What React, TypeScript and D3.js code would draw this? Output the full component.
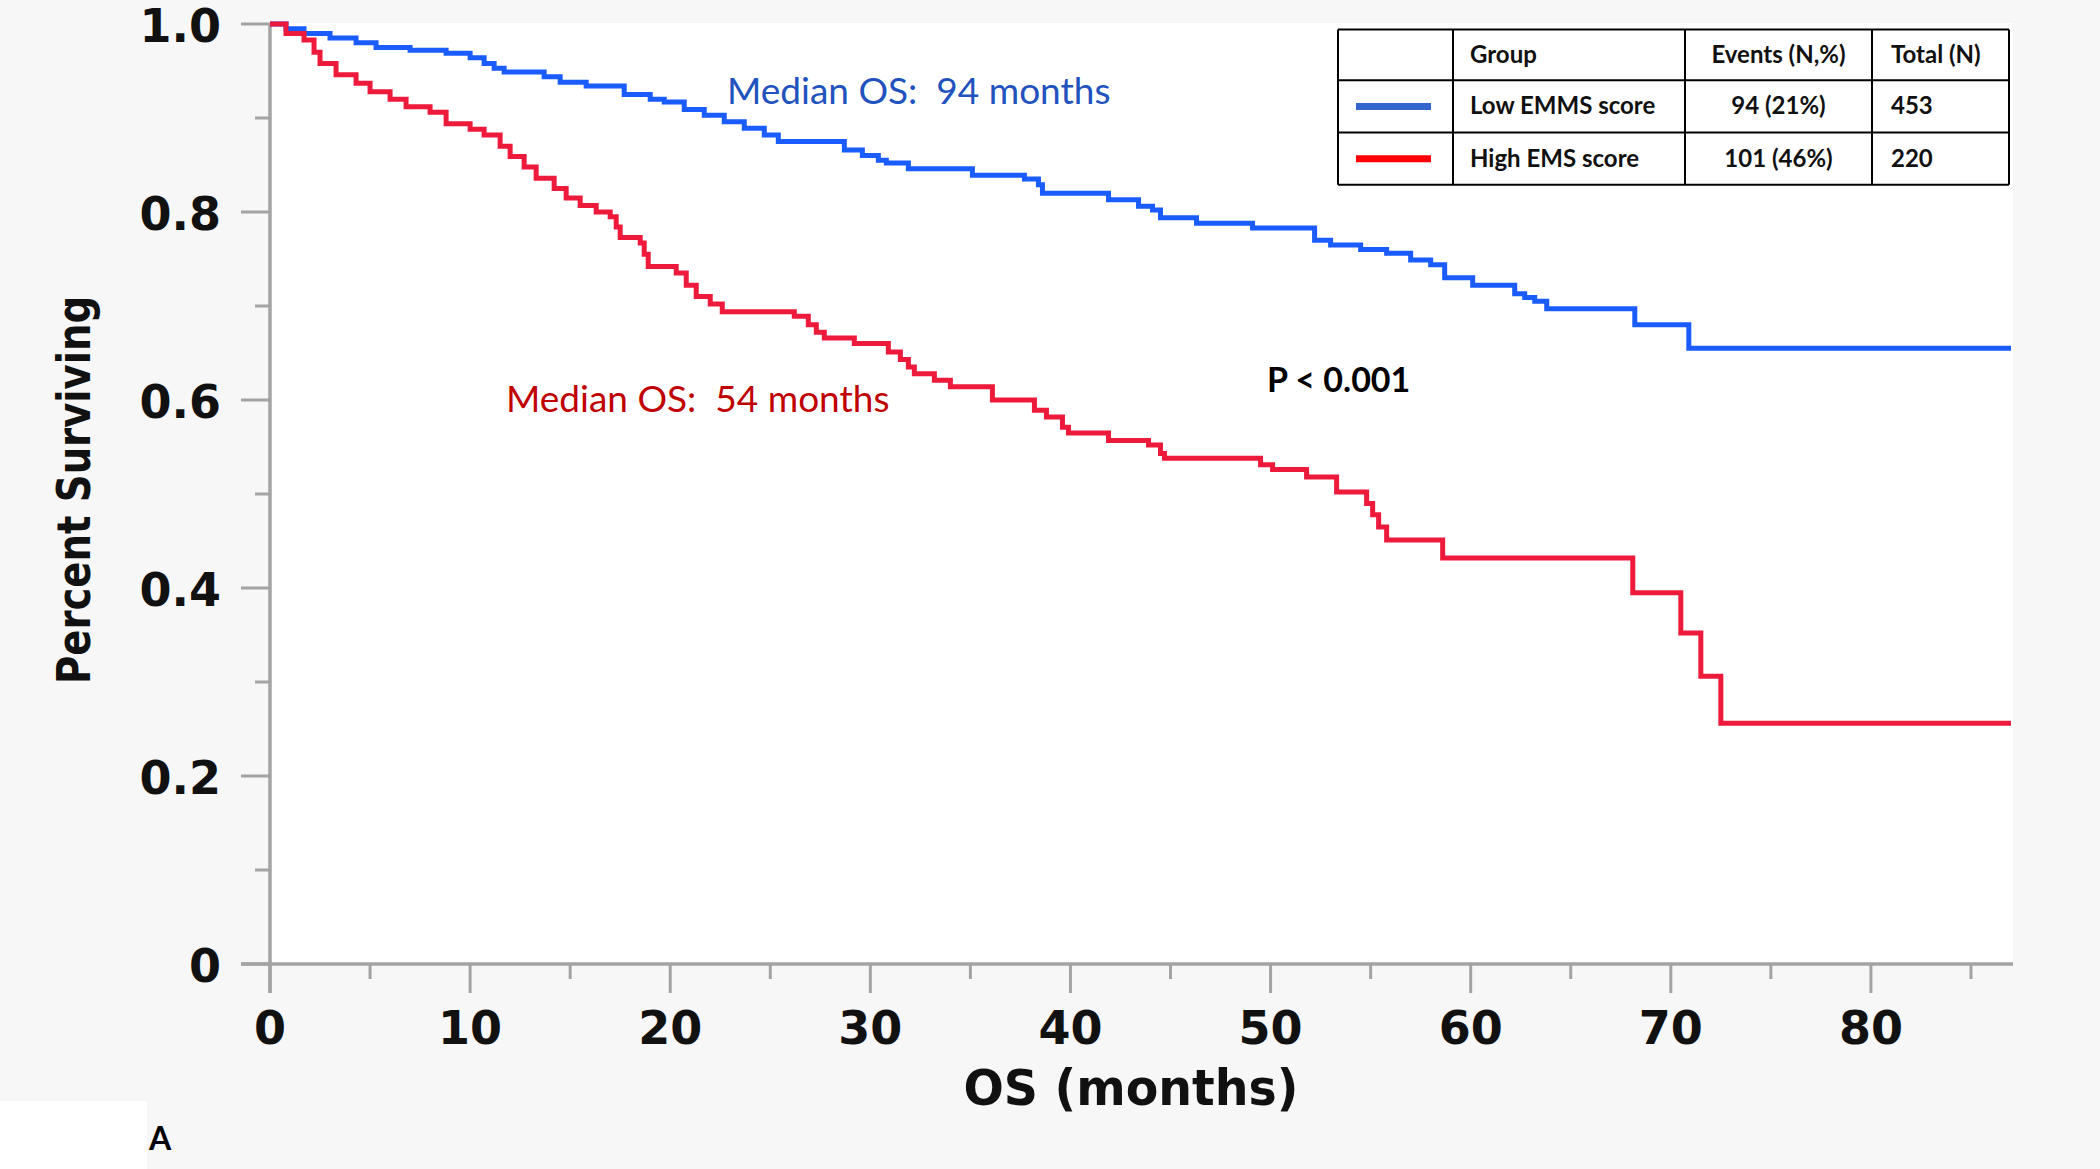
import React from "react";
import * as d3 from "d3";

// ---------- data ----------
const lowTimes = [0, 0.8, 1.7, 3.0, 4.3, 5.3, 7.0, 8.8, 10.0, 10.7, 11.2, 11.7, 13.7, 14.5, 15.8, 17.7, 19.0, 19.7, 20.7, 21.7, 22.7, 23.7, 24.7, 25.4, 28.7, 29.6, 30.4, 30.8, 31.9, 35.1, 37.7, 38.4, 38.6, 41.9, 43.4, 44.1, 44.5, 46.3, 49.1, 52.2, 53.0, 54.5, 55.8, 57.0, 58.0, 58.7, 60.1, 62.2, 62.7, 63.2, 63.8, 68.2, 70.9];
const lowSurv = [1.0, 0.995, 0.99, 0.985, 0.98, 0.975, 0.972, 0.969, 0.964, 0.958, 0.953, 0.949, 0.944, 0.938, 0.934, 0.925, 0.92, 0.917, 0.909, 0.903, 0.896, 0.889, 0.882, 0.875, 0.866, 0.86, 0.855, 0.852, 0.846, 0.839, 0.835, 0.829, 0.82, 0.813, 0.806, 0.802, 0.794, 0.788, 0.783, 0.77, 0.765, 0.76, 0.756, 0.749, 0.744, 0.73, 0.722, 0.713, 0.709, 0.705, 0.697, 0.68, 0.655];

const highTimes = [0, 0.8, 1.7, 2.2, 2.5, 3.3, 4.3, 5.0, 6.0, 6.8, 8.0, 8.8, 10.0, 10.7, 11.5, 12.0, 12.7, 13.3, 14.2, 14.8, 15.5, 16.3, 17.0, 17.3, 17.5, 18.5, 18.7, 18.9, 20.3, 20.8, 21.3, 22.0, 22.6, 26.2, 26.9, 27.3, 27.7, 29.2, 30.9, 31.5, 31.9, 32.2, 33.2, 34.0, 36.1, 38.2, 38.8, 39.6, 39.9, 41.9, 43.9, 44.5, 44.7, 49.5, 50.1, 51.8, 53.3, 54.8, 55.1, 55.4, 55.8, 58.6, 68.1, 70.5, 71.5, 72.5];
const highSurv = [1.0, 0.99, 0.983, 0.97, 0.958, 0.946, 0.937, 0.928, 0.92, 0.912, 0.906, 0.894, 0.888, 0.882, 0.87, 0.859, 0.848, 0.836, 0.825, 0.815, 0.807, 0.8, 0.795, 0.784, 0.773, 0.767, 0.755, 0.742, 0.735, 0.722, 0.71, 0.702, 0.694, 0.689, 0.68, 0.672, 0.666, 0.66, 0.651, 0.643, 0.635, 0.628, 0.621, 0.614, 0.6, 0.589, 0.582, 0.571, 0.565, 0.557, 0.552, 0.543, 0.538, 0.531, 0.526, 0.518, 0.502, 0.49, 0.478, 0.465, 0.451, 0.432, 0.395, 0.352, 0.306, 0.256];

const followUpEnd = 87;
const xMax = 87.1;

const xMajorTicks = [0, 10, 20, 30, 40, 50, 60, 70, 80];
const xMinorTicks = [5, 15, 25, 35, 45, 55, 65, 75, 85];
const yMajorTicks = [0, 0.2, 0.4, 0.6, 0.8, 1.0];
const yTickLabels = ["0", "0.2", "0.4", "0.6", "0.8", "1.0"];
const yMinorTicks = [0.1, 0.3, 0.5, 0.7, 0.9];

const tableHeaders = ["Group", "Events (N,%)", "Total (N)"];
const groupNames = ["Low EMMS score", "High EMS score"];
const groupEvents = ["94 (21%)", "101 (46%)"];
const groupTotals = ["453", "220"];

const xTitle = "OS (months)";
const yTitle = "Percent Surviving";
const lowMedianText = "Median OS:  94 months";
const highMedianText = "Median OS:  54 months";
const pText = "P < 0.001";
const panelLabel = "A";

// ---------- styling ----------
const W = 2100;
const H = 1169;
const BG = "#f7f7f7";
const AXIS = "#a3a3a3";
const BLUE_LINE = "#1a5cff";
const RED_LINE = "#ee1a3c";
const BLUE_TEXT = "#2152bd";
const RED_TEXT = "#c00000";
const TICK_FONT = "'DejaVu Sans', Verdana, sans-serif";
const TEXT_FONT = "Lato, 'Open Sans', sans-serif";

export default function App() {
  const x = d3.scaleLinear().domain([0, xMax]).range([270, 2013]);
  const y = d3.scaleLinear().domain([0, 1]).range([964, 24]);

  const line = d3
    .line<[number, number]>()
    .x((d) => x(d[0]))
    .y((d) => y(d[1]))
    .curve(d3.curveStepAfter);

  const toPts = (t: number[], s: number[]): [number, number][] => {
    const p: [number, number][] = t.map((tt, i) => [tt, s[i]]);
    p.push([followUpEnd, s[s.length - 1]]);
    return p;
  };

  const lowPath = line(toPts(lowTimes, lowSurv)) || "";
  const highPath = line(toPts(highTimes, highSurv)) || "";

  const x0 = x(0);
  const y0 = y(0);
  const majorLen = 29;
  const minorLen = 15;

  // table geometry
  const colX = [1338, 1453, 1685, 1872, 2009];
  const rowY = [29.5, 80.3, 132.6, 184.8];

  return (
    <svg
      width={W}
      height={H}
      viewBox={`0 0 ${W} ${H}`}
      style={{ position: "absolute", left: 0, top: 0, display: "block" }}
    >
      <rect x={0} y={0} width={W} height={H} fill={BG} />
      {/* plot area */}
      <rect x={x0} y={23} width={x(xMax) - x0} height={y0 - 23} fill="#ffffff" />
      {/* panel label box */}
      <rect x={0} y={1101} width={147} height={H - 1101} fill="#ffffff" />
      <text x={149} y={1150} fontFamily={TEXT_FONT} fontWeight={700} fontSize={32} fill="#000">
        {panelLabel}
      </text>

      {/* axes */}
      <line x1={x0} y1={y(1)} x2={x0} y2={y0 + majorLen} stroke={AXIS} strokeWidth={3.5} />
      <line x1={x0 - majorLen} y1={y0} x2={x(xMax)} y2={y0} stroke={AXIS} strokeWidth={3.5} />
      {yMajorTicks.map((v) => (
        <line key={"ym" + v} x1={x0 - majorLen} x2={x0} y1={y(v)} y2={y(v)} stroke={AXIS} strokeWidth={3} />
      ))}
      {yMinorTicks.map((v) => (
        <line key={"yn" + v} x1={x0 - minorLen} x2={x0} y1={y(v)} y2={y(v)} stroke={AXIS} strokeWidth={3} />
      ))}
      {xMajorTicks.map((v) => (
        <line key={"xm" + v} x1={x(v)} x2={x(v)} y1={y0} y2={y0 + majorLen} stroke={AXIS} strokeWidth={3} />
      ))}
      {xMinorTicks.map((v) => (
        <line key={"xn" + v} x1={x(v)} x2={x(v)} y1={y0} y2={y0 + minorLen} stroke={AXIS} strokeWidth={3} />
      ))}

      {/* tick labels */}
      {yMajorTicks.map((v, i) => (
        <text
          key={"yl" + v}
          x={221}
          y={y(v) + 18}
          textAnchor="end"
          fontFamily={TICK_FONT}
          fontWeight={700}
          fontSize={46}
          fill="#111"
        >
          {yTickLabels[i]}
        </text>
      ))}
      {xMajorTicks.map((v) => (
        <text
          key={"xl" + v}
          x={x(v)}
          y={1044}
          textAnchor="middle"
          fontFamily={TICK_FONT}
          fontWeight={700}
          fontSize={46}
          fill="#111"
        >
          {String(v)}
        </text>
      ))}

      {/* axis titles */}
      <text
        x={1131}
        y={1105}
        textAnchor="middle"
        fontFamily={TICK_FONT}
        fontWeight={700}
        fontSize={50}
        textLength={335}
        lengthAdjust="spacingAndGlyphs"
        fill="#111"
      >
        {xTitle}
      </text>
      <text
        transform={`translate(90, 490) rotate(-90)`}
        textAnchor="middle"
        fontFamily={TICK_FONT}
        fontWeight={700}
        fontSize={46}
        textLength={388}
        lengthAdjust="spacingAndGlyphs"
        fill="#111"
      >
        {yTitle}
      </text>

      {/* curves */}
      <path d={lowPath} fill="none" stroke={BLUE_LINE} strokeWidth={5} strokeLinejoin="miter" />
      <path d={highPath} fill="none" stroke={RED_LINE} strokeWidth={5} strokeLinejoin="miter" />

      {/* annotations */}
      <text x={727} y={104} fontFamily={TEXT_FONT} fontSize={37} fill={BLUE_TEXT} style={{ whiteSpace: "pre" }}>
        {lowMedianText}
      </text>
      <text x={506} y={412} fontFamily={TEXT_FONT} fontSize={37} fill={RED_TEXT} style={{ whiteSpace: "pre" }}>
        {highMedianText}
      </text>
      <text x={1267} y={392} fontFamily={TEXT_FONT} fontWeight={700} fontSize={34} fill="#000">
        {pText}
      </text>

      {/* legend table */}
      <rect x={colX[0]} y={rowY[0]} width={colX[4] - colX[0]} height={rowY[3] - rowY[0]} fill="#fff" />
      {rowY.map((ry, i) => (
        <line key={"tr" + i} x1={colX[0]} x2={colX[4]} y1={ry} y2={ry} stroke="#000" strokeWidth={2} />
      ))}
      {colX.map((cx, i) => (
        <line key={"tc" + i} x1={cx} x2={cx} y1={rowY[0]} y2={rowY[3]} stroke="#000" strokeWidth={2} />
      ))}
      <text x={1470} y={63} fontFamily={TEXT_FONT} fontWeight={700} fontSize={24} fill="#111">
        {tableHeaders[0]}
      </text>
      <text x={(colX[2] + colX[3]) / 2} y={63} textAnchor="middle" fontFamily={TEXT_FONT} fontWeight={700} fontSize={24} fill="#111">
        {tableHeaders[1]}
      </text>
      <text x={1891} y={63} fontFamily={TEXT_FONT} fontWeight={700} fontSize={24} fill="#111">
        {tableHeaders[2]}
      </text>
      {groupNames.map((g, i) => {
        const cy = (rowY[i + 1] + rowY[i + 2]) / 2;
        return (
          <g key={"row" + i}>
            <line
              x1={1356}
              x2={1431}
              y1={cy}
              y2={cy}
              stroke={i === 0 ? "#3366cc" : "#ff0000"}
              strokeWidth={7}
            />
            <text x={1470} y={cy + 8} fontFamily={TEXT_FONT} fontWeight={700} fontSize={24} fill="#111">
              {g}
            </text>
            <text
              x={(colX[2] + colX[3]) / 2}
              y={cy + 8}
              textAnchor="middle"
              fontFamily={TEXT_FONT}
              fontWeight={700}
              fontSize={24}
              fill="#111"
            >
              {groupEvents[i]}
            </text>
            <text x={1891} y={cy + 8} fontFamily={TEXT_FONT} fontWeight={700} fontSize={24} fill="#111">
              {groupTotals[i]}
            </text>
          </g>
        );
      })}
    </svg>
  );
}
